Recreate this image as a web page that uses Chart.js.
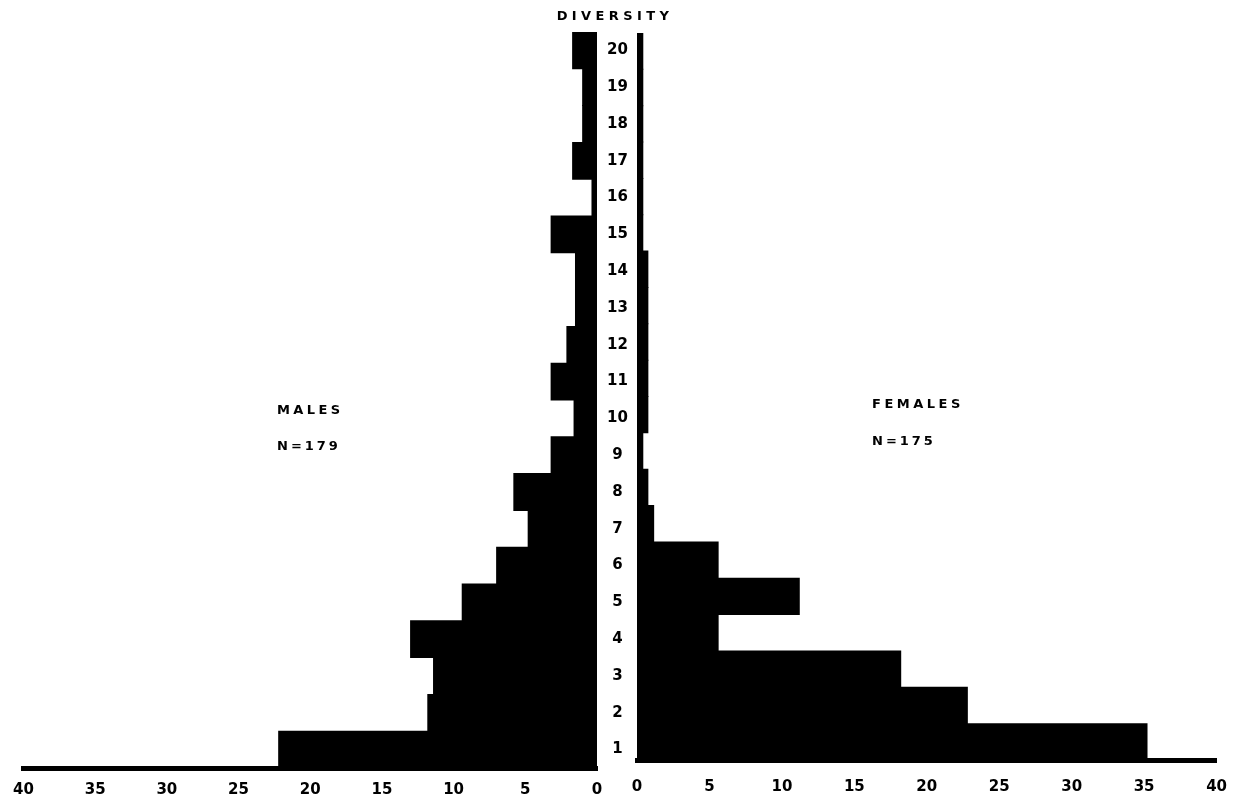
<!DOCTYPE html>
<html>
<head>
<meta charset="utf-8">
<title>Diversity - males and females</title>
<script src="https://cdn.jsdelivr.net/npm/chart.js"></script>
<style>
  html, body { margin: 0; padding: 0; background: #fff; }
  #wrap { position: relative; width: 1245px; height: 799px; overflow: hidden; background: #fff; }
  #wrap canvas { position: absolute; top: 0; }
  #males-chart { left: 0; }
  #females-chart { left: 600px; }
  .note {
    position: absolute;
    font-family: "DejaVu Sans", sans-serif;
    font-weight: bold;
    font-size: 13px;
    line-height: 14px;
    color: #000;
    white-space: nowrap;
  }
</style>
</head>
<body>
<div id="wrap">
  <canvas id="males-chart" width="640" height="799"></canvas>
  <canvas id="females-chart" width="645" height="799"></canvas>
  <div class="note" style="left:511px; width:200px; top:9px; text-align:center; letter-spacing:4.4px; padding-left:4px;">DIVERSITY</div>
  <div class="note" style="left:277px; top:403px; letter-spacing:3.4px;">MALES</div>
  <div class="note" style="left:277px; top:439px; letter-spacing:3px;">N=179</div>
  <div class="note" style="left:872px; top:397px; letter-spacing:3.5px;">FEMALES</div>
  <div class="note" style="left:872px; top:434px; letter-spacing:3px;">N=175</div>
</div>
<script>
// diversity classes, top row first
const diversity = ['20', '19', '18', '17', '16', '15', '14', '13', '12', '11',
                   '10', '9', '8', '7', '6', '5', '4', '3', '2', '1'];

// percent of each group (same order as diversity)
const malesPct = [1.7, 1.0, 1.0, 1.7, 0.35, 3.2, 1.5, 1.5, 2.1, 3.2,
                  1.6, 3.2, 5.8, 4.8, 7.0, 9.4, 13.0, 11.4, 11.8, 22.2];
const femalesPct = [0.4, 0.4, 0.4, 0.4, 0.4, 0.4, 0.75, 0.75, 0.75, 0.75,
                    0.75, 0.4, 0.75, 1.15, 5.6, 11.2, 5.6, 18.2, 22.8, 35.2];

// axis range and tick step
const axisMax = 40;
const tickStep = 5;

const tickFont = { family: 'DejaVu Sans', size: 15, weight: 'bold' };

function barDataset(label, values) {
    return {
        label: label,
        data: values,
        backgroundColor: '#000',
        borderWidth: 0,
        barPercentage: 1,
        categoryPercentage: 1,
        inflateAmount: 0.5
    };
}

function xAxis(reverse, axisHeight, labelPad) {
    return {
        type: 'linear',
        min: 0,
        max: axisMax,
        reverse: reverse,
        ticks: {
            stepSize: tickStep,
            color: '#000',
            font: tickFont,
            padding: labelPad,
            maxRotation: 0,
            autoSkip: false
        },
        grid: { display: false, drawTicks: false },
        border: { display: true, color: '#000', width: 5 },
        afterFit: (scale) => { scale.height = axisHeight; }
    };
}

// left half: males, bars grow to the left, class numbers in the middle column
new Chart(document.getElementById('males-chart'), {
    type: 'bar',
    data: {
        labels: diversity,
        datasets: [barDataset('Males', malesPct)]
    },
    options: {
        indexAxis: 'y',
        responsive: false,
        animation: false,
        layout: { padding: { left: 20, top: 32, right: 0, bottom: 0 } },
        plugins: { legend: { display: false }, tooltip: { enabled: false } },
        scales: {
            x: xAxis(true, 799 - 768, 13),
            y: {
                type: 'category',
                position: 'right',
                ticks: {
                    color: '#000',
                    font: tickFont,
                    crossAlign: 'center',
                    padding: 10
                },
                grid: { display: false, drawTicks: false },
                border: { display: false },
                afterFit: (scale) => { scale.width = 43; }
            }
        }
    }
});

// right half: females, bars grow to the right
new Chart(document.getElementById('females-chart'), {
    type: 'bar',
    data: {
        labels: diversity,
        datasets: [barDataset('Females', femalesPct)]
    },
    options: {
        indexAxis: 'y',
        responsive: false,
        animation: false,
        layout: { padding: { left: 37, top: 33, right: 27, bottom: 0 } },
        plugins: { legend: { display: false }, tooltip: { enabled: false } },
        scales: {
            x: xAxis(false, 799 - 760, 18),
            y: {
                type: 'category',
                display: false
            }
        }
    }
});
</script>
</body>
</html>
